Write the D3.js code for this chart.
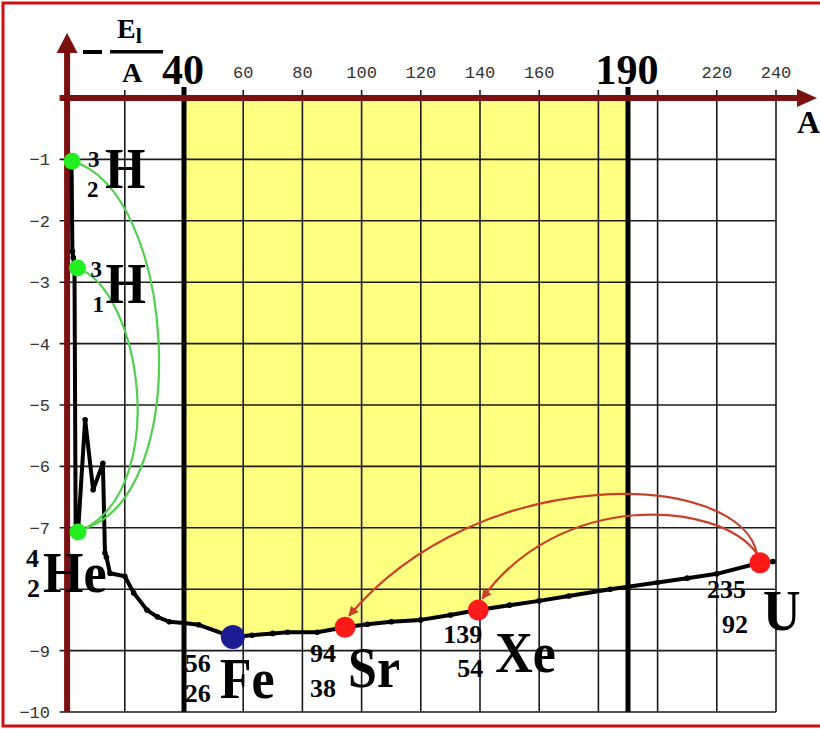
<!DOCTYPE html>
<html lang="en">
  <head>
    <title>Binding energy per nucleon</title>
    <script src="https://d3js.org/d3.v7.min.js"></script>
    <style>
      body {
        margin: 0;
        background: white;
      }
      .grid {
        stroke: #1a1a1a;
        stroke-width: 1.6;
      }
      .heavy {
        stroke: black;
        stroke-width: 5;
      }
      .axis {
        stroke: #7a1010;
        stroke-width: 6;
      }
      .tick {
        font-family: "Liberation Mono", monospace;
        font-size: 17px;
        fill: #333;
      }
      .serif {
        font-family: "Liberation Serif", serif;
        font-weight: bold;
        fill: black;
      }
    </style>
  </head>
  <body>
    <div id="chartArea"></div>
    <script>
      let width = 820;
      let height = 729;

      // binding energy curve
      let curveA = [2, 2.3, 2.6, 3, 3.4, 4.2, 6.6, 9.3, 12.6, 13.3, 13.8, 15, 20, 23, 27.5, 31, 35, 40, 45,
        56.5, 63, 70, 75, 85, 94.4, 102, 110, 120, 130, 139.4, 150, 160, 170, 184, 190, 200, 210, 220, 234.6, 239];
      let curveE = [-1.03, -2.5, -2.6, -2.77, -7.0, -7.07, -5.24, -6.38, -5.95, -7.41, -7.48, -7.74, -7.79, -8.06, -8.34, -8.45, -8.53, -8.55, -8.58,
        -8.78, -8.75, -8.72, -8.7, -8.7, -8.62, -8.57, -8.53, -8.5, -8.42, -8.34, -8.26, -8.19, -8.11, -8.0, -7.96, -7.89, -7.82, -7.75, -7.57, -7.55];

      // nuclides marked on the curve
      let nuclideSymbol = ["H", "H", "He", "Fe", "Sr", "Xe", "U"];
      let nuclideMass = ["3", "3", "4", "56", "94", "139", "235"];
      let nuclideCharge = ["2", "1", "2", "26", "38", "54", "92"];
      let nuclideA = [2.2, 4.0, 4.2, 56.5, 94.4, 139.4, 234.6];
      let nuclideE = [-1.03, -2.77, -7.07, -8.78, -8.62, -8.34, -7.57];
      let nuclideGroup = ["light", "light", "light", "iron", "fission", "fission", "fission"];

      // reactions (index into the nuclide lists)
      let fusionFrom = [0, 1];
      let fusionTo = [2, 2];
      let fissionFrom = [6, 6];
      let fissionTo = [4, 5];

      // ticks
      let xTickLabels = [60, 80, 100, 120, 140, 160, 220, 240];
      let xGrid = [20, 60, 80, 100, 120, 140, 160, 180, 200, 220, 240];
      let xBounds = [40, 190];
      let yGrid = [-1, -2, -3, -4, -5, -6, -7, -8, -9, -10];
      let yTickLabels = [-1, -2, -3, -4, -5, -6, -7, -9, -10];

      let x = d3.scaleLinear().domain([0, 240]).range([65.6, 776]);
      let y = d3.scaleLinear().domain([0, -10]).range([98, 712]);

      let colour = d3.scaleOrdinal()
        .domain(["light", "iron", "fission"])
        .range(["#22ee22", "#1c1c94", "#ff1a1a"]);
      let radius = d3.scaleOrdinal()
        .domain(["light", "iron", "fission"])
        .range([8.5, 12, 10.5]);

      let svg = d3
        .select("#chartArea")
        .append("svg")
        .attr("width", width)
        .attr("height", height);

      let defs = svg.append("defs");
      defs.append("clipPath").attr("id", "band")
        .append("rect")
        .attr("x", x(xBounds[0]))
        .attr("y", 0)
        .attr("width", x(xBounds[1]) - x(xBounds[0]))
        .attr("height", height);
      defs.append("marker")
        .attr("id", "redHead")
        .attr("viewBox", "0 0 10 10")
        .attr("refX", 9)
        .attr("refY", 5)
        .attr("markerUnits", "userSpaceOnUse")
        .attr("markerWidth", 12)
        .attr("markerHeight", 10)
        .attr("orient", "auto")
        .append("path")
        .attr("d", "M0,0 L10,5 L0,10 z")
        .attr("fill", "#c8402a");

      let points = curveA.map(function (a, i) {
        return { a: a, e: curveE[i] };
      });

      // yellow region between A = 40 and 190, above the curve
      svg.append("path")
        .datum(points)
        .attr("clip-path", "url(#band)")
        .attr("fill", "#ffff80")
        .attr("d", d3.area()
          .x(function (d) { return x(d.a); })
          .y0(y(0))
          .y1(function (d) { return y(d.e); }));

      // grid
      svg.append("g").selectAll("line")
        .data(xGrid)
        .enter()
        .append("line")
        .classed("grid", true)
        .attr("x1", function (d) { return x(d); })
        .attr("x2", function (d) { return x(d); })
        .attr("y1", y(0) - 8)
        .attr("y2", y(-10));
      svg.append("g").selectAll("line")
        .data(yGrid)
        .enter()
        .append("line")
        .classed("grid", true)
        .attr("x1", x(0) - 6)
        .attr("x2", x(240))
        .attr("y1", function (d) { return y(d); })
        .attr("y2", function (d) { return y(d); });

      svg.append("g").selectAll("line")
        .data(xBounds)
        .enter()
        .append("line")
        .classed("heavy", true)
        .attr("x1", function (d) { return x(d); })
        .attr("x2", function (d) { return x(d); })
        .attr("y1", y(0) - 11)
        .attr("y2", y(-10));

      // axes with arrows
      svg.append("line").classed("axis", true)
        .attr("x1", x(0) + 1.5).attr("x2", x(0) + 1.5)
        .attr("y1", y(-10)).attr("y2", 50);
      svg.append("path").attr("fill", "#7a1010")
        .attr("d", "M" + (x(0) + 1.5) + ",33 l-10.5,20 h21 z");
      svg.append("line").classed("axis", true)
        .attr("x1", x(0) - 6).attr("x2", 800)
        .attr("y1", y(0)).attr("y2", y(0));
      svg.append("path").attr("fill", "#7a1010")
        .attr("d", "M817," + y(0) + " l-20,-9 v18 z");

      // tick labels
      svg.append("g").selectAll("text")
        .data(xTickLabels)
        .enter()
        .append("text")
        .classed("tick", true)
        .attr("text-anchor", "middle")
        .attr("x", function (d) { return x(d); })
        .attr("y", y(0) - 20)
        .text(function (d) { return d; });
      svg.append("g").selectAll("text")
        .data(yTickLabels)
        .enter()
        .append("text")
        .classed("tick", true)
        .attr("text-anchor", "end")
        .attr("x", 50)
        .attr("y", function (d) { return y(d) + 6; })
        .text(function (d) { return "\u2212" + Math.abs(d); });

      svg.append("g").selectAll("text")
        .data(xBounds)
        .enter()
        .append("text")
        .classed("serif", true)
        .attr("text-anchor", "middle")
        .attr("font-size", 42)
        .attr("x", function (d) { return x(d) + (d === 40 ? -1 : -1); })
        .attr("y", y(0) - 14)
        .text(function (d) { return d; });

      // axis titles
      svg.append("rect").attr("x", 83).attr("y", 50).attr("width", 19).attr("height", 4).attr("fill", "black");
      svg.append("rect").attr("x", 110).attr("y", 50).attr("width", 53).attr("height", 3.5).attr("fill", "black");
      let eTitle = svg.append("text").classed("serif", true).attr("x", 117).attr("y", 38).attr("font-size", 28);
      eTitle.append("tspan").text("E");
      eTitle.append("tspan").attr("font-size", 22).attr("dy", 5).text("l");
      svg.append("text").classed("serif", true).attr("x", 122).attr("y", 82).attr("font-size", 28).text("A");
      svg.append("text").classed("serif", true).attr("x", 797).attr("y", 133).attr("font-size", 32).text("A");

      // curve
      svg.append("path")
        .datum(points)
        .attr("fill", "none")
        .attr("stroke", "black")
        .attr("stroke-width", 4)
        .attr("stroke-linejoin", "round")
        .attr("d", d3.line()
          .x(function (d) { return x(d.a); })
          .y(function (d) { return y(d.e); }));
      svg.append("g").selectAll("circle")
        .data(points)
        .enter()
        .append("circle")
        .attr("cx", function (d) { return x(d.a); })
        .attr("cy", function (d) { return y(d.e); })
        .attr("r", 2.8)
        .attr("fill", "black");

      function bezier(p0, c1, c2, p3) {
        return "M" + p0 + " C" + c1 + " " + c2 + " " + p3;
      }
      function px(a, e) {
        return [x(a), y(e)];
      }

      // fusion arcs (green)
      let fusionBend = [[[37, -1.5], [43.7, -6.38]], [[25.1, -3.13], [35.3, -6.22]]];
      svg.append("g").selectAll("path")
        .data(fusionFrom)
        .enter()
        .append("path")
        .attr("fill", "none")
        .attr("stroke", "#4fd04f")
        .attr("stroke-width", 2.2)
        .attr("d", function (d, i) {
          let t = fusionTo[i];
          let b = fusionBend[i];
          return bezier(
            px(nuclideA[d], nuclideE[d]),
            px(b[0][0], b[0][1]),
            px(b[1][0], b[1][1]),
            [x(nuclideA[t]) + 8, y(nuclideE[t]) - 4]
          );
        });

      // fission arcs (red)
      let fissionBend = [[[227.8, -6.06], [140, -5.9]], [[221, -6.55], [167, -6.38]]];
      svg.append("g").selectAll("path")
        .data(fissionFrom)
        .enter()
        .append("path")
        .attr("fill", "none")
        .attr("stroke", "#c8402a")
        .attr("stroke-width", 2.2)
        .attr("marker-end", "url(#redHead)")
        .attr("d", function (d, i) {
          let t = fissionTo[i];
          let b = fissionBend[i];
          return bezier(
            [x(nuclideA[d]) - 3, y(nuclideE[d]) - 9],
            px(b[0][0], b[0][1]),
            px(b[1][0], b[1][1]),
            [x(nuclideA[t]) + 4, y(nuclideE[t]) - radius(nuclideGroup[t]) - 1]
          );
        });

      // nuclide dots
      svg.append("g").selectAll("circle")
        .data(nuclideA)
        .enter()
        .append("circle")
        .attr("cx", function (d) { return x(d); })
        .attr("cy", function (d, i) { return y(nuclideE[i]); })
        .attr("r", function (d, i) { return radius(nuclideGroup[i]); })
        .attr("fill", function (d, i) { return colour(nuclideGroup[i]); });

      // label offsets from each dot: [symbol dx, dy], [mass dx, dy], [charge dx, dy]
      let labelOffset = [
        [[33, 27], [16, 6], [15, 36]],
        [[28, 35], [13, 9], [15, 44]],
        [[-35, 60], [-52, 35], [-51, 65]],
        [[-13, 61], [-48, 35], [-48, 65]],
        [[3, 60], [-35, 35], [-35, 70]],
        [[17, 62], [-35, 33], [-21, 67]],
        [[3, 67], [-53, 35], [-38, 70]]
      ];
      let labels = svg.append("g").selectAll("g")
        .data(nuclideSymbol)
        .enter()
        .append("g")
        .attr("transform", function (d, i) {
          return "translate(" + x(nuclideA[i]) + "," + y(nuclideE[i]) + ")";
        });
      labels.append("text")
        .classed("serif", true)
        .attr("font-size", 52)
        .attr("transform", function (d, i) {
          let o = labelOffset[i][0];
          return "translate(" + o[0] + "," + o[1] + ") scale(1,1.1)";
        })
        .text(function (d) { return d; });
      labels.append("text")
        .classed("serif", true)
        .attr("font-size", function (d, i) { return i < 2 ? 23 : 26; })
        .attr("x", function (d, i) { return labelOffset[i][1][0]; })
        .attr("y", function (d, i) { return labelOffset[i][1][1]; })
        .text(function (d, i) { return nuclideMass[i]; });
      labels.append("text")
        .classed("serif", true)
        .attr("font-size", function (d, i) { return i < 2 ? 23 : 26; })
        .attr("x", function (d, i) { return labelOffset[i][2][0]; })
        .attr("y", function (d, i) { return labelOffset[i][2][1]; })
        .text(function (d, i) { return nuclideCharge[i]; });

      // red frame
      svg.append("path")
        .attr("fill", "none")
        .attr("stroke", "#d01010")
        .attr("stroke-width", 3)
        .attr("d", "M820,3 H3 V726 H820");
    </script>
  </body>
</html>
